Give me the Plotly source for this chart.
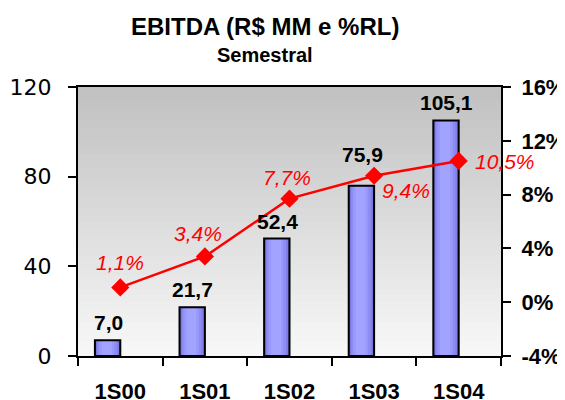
import plotly.graph_objects as go

categories = ["1S00", "1S01", "1S02", "1S03", "1S04"]
ebitda = [7.0, 21.7, 52.4, 75.9, 105.1]
margin_pct = [1.1, 3.4, 7.7, 9.4, 10.5]
left_ticks = [0, 40, 80, 120]
right_ticks = [-4, 0, 4, 8, 12, 16]

# page body has an 8px margin, so the figure is placed at (8, 8) in the window
OFF = 8
W, H = 565 - OFF, 400 - OFF
L, T = 78 - OFF, 87 - OFF
R = W - (501 - OFF)
B = H - (356 - OFF)
FONT = "Liberation Sans, Arial, sans-serif"

def br(v, suffix=""):
    return f"{v:.1f}".replace(".", ",") + suffix

fig = go.Figure()

# bar shading layers (left offset, right offset, colour) -> cylinder-like shading
shade = [(-0.30, 0.00, "#5c5cb8"), (-0.29, -0.01, "#7070d0"), (-0.28, -0.02, "#8080e6"),
         (-0.27, -0.04, "#8c8cf2"), (-0.25, -0.07, "#9898fc"), (-0.22, -0.10, "#a2a2ff")]
for x0, x1, col in shade:
    fig.add_trace(go.Bar(x=categories, y=ebitda, width=x1 - x0, offset=x0,
                         marker=dict(color=col, line=dict(width=0)),
                         hoverinfo="skip", showlegend=False))
# outline
fig.add_trace(go.Bar(x=categories, y=ebitda, width=0.3, offset=-0.3,
                     marker=dict(color="rgba(0,0,0,0)", line=dict(color="black", width=2)),
                     hoverinfo="skip", showlegend=False))

fig.add_trace(go.Scatter(x=categories, y=margin_pct, yaxis="y2", mode="lines+markers",
                         line=dict(color="#ff0000", width=2.5),
                         marker=dict(symbol="diamond", size=14, color="#ff0000"),
                         cliponaxis=False, hoverinfo="skip", showlegend=False))

# bar value labels
bar_lift = [4, 4, 4, 18, 4]
for c, v, dy in zip(categories, ebitda, bar_lift):
    fig.add_annotation(x=c, y=v, xref="x", yref="y", text=f"<b>{br(v)}</b>", showarrow=False,
                       xanchor="center", yanchor="bottom", xshift=-12, yshift=dy,
                       font=dict(family=FONT, size=21, color="black"))

# margin labels
shifts = [(0, 25), (-7, 23), (-3, 21), (32, -15), (46, -1)]
for c, v, (dx, dy) in zip(categories, margin_pct, shifts):
    fig.add_annotation(x=c, y=v, xref="x", yref="y2", text=br(v, "%"), showarrow=False,
                       xanchor="center", yanchor="middle", xshift=dx, yshift=dy,
                       font=dict(family=FONT, size=21, color="#ff0000", style="italic"))

# gradient background
N = 40
for i in range(N):
    t = (i + 0.5) / N
    g = round(248 - (248 - 192) * t)
    fig.add_shape(type="rect", xref="x domain", yref="y domain",
                  x0=0, x1=1, y0=i / N, y1=min(1, (i + 1.6) / N),
                  fillcolor=f"rgb({g},{g},{g})", line=dict(width=0), layer="below")

pw = W - L - R
ph = H - T - B
def py(ypix):
    return (H - B - (ypix - OFF)) / ph
tx = (265 - 78) / pw
fig.add_annotation(text="<b>EBITDA (R$ MM e %RL)</b>", xref="paper", yref="paper",
                   x=tx, y=py(26), xanchor="center", yanchor="middle", showarrow=False,
                   font=dict(family=FONT, size=24, color="black"))
fig.add_annotation(text="<b>Semestral</b>", xref="paper", yref="paper",
                   x=tx, y=py(55), xanchor="center", yanchor="middle", showarrow=False,
                   font=dict(family=FONT, size=20, color="black"))

fig.update_layout(
    width=W, height=H,
    margin=dict(l=L, r=R, t=T, b=B, autoexpand=False),
    paper_bgcolor="white", plot_bgcolor="white",
    barmode="overlay", hovermode=False,
    xaxis=dict(type="category", range=[-0.5, 4.5], showline=True, linecolor="black",
               linewidth=2, mirror=True, ticks="outside", tickson="boundaries",
               ticklen=8, tickwidth=2, tickcolor="black", showgrid=False,
               ticklabelstandoff=15, automargin=False,
               tickfont=dict(family=FONT, size=22, color="black", weight="bold")),
    yaxis=dict(range=[0, 120], tickvals=left_ticks, showline=True, linecolor="black",
               linewidth=2, ticks="outside", ticklen=8, tickwidth=2, tickcolor="black",
               showgrid=False, zeroline=False, ticklabelstandoff=12, automargin=False,
               tickfont=dict(family="DejaVu Sans, Verdana, sans-serif", size=22, color="black")),
    yaxis2=dict(range=[-4, 16], tickvals=right_ticks, ticktext=[f"{v}%" for v in right_ticks],
                overlaying="y", side="right", showline=True, linecolor="black",
                linewidth=2, ticks="outside", ticklen=8, tickwidth=2, tickcolor="black",
                showgrid=False, zeroline=False, ticklabelstandoff=6, automargin=False,
                tickfont=dict(family=FONT, size=22, color="black", weight="bold")),
)

fig.write_html("out.html")
